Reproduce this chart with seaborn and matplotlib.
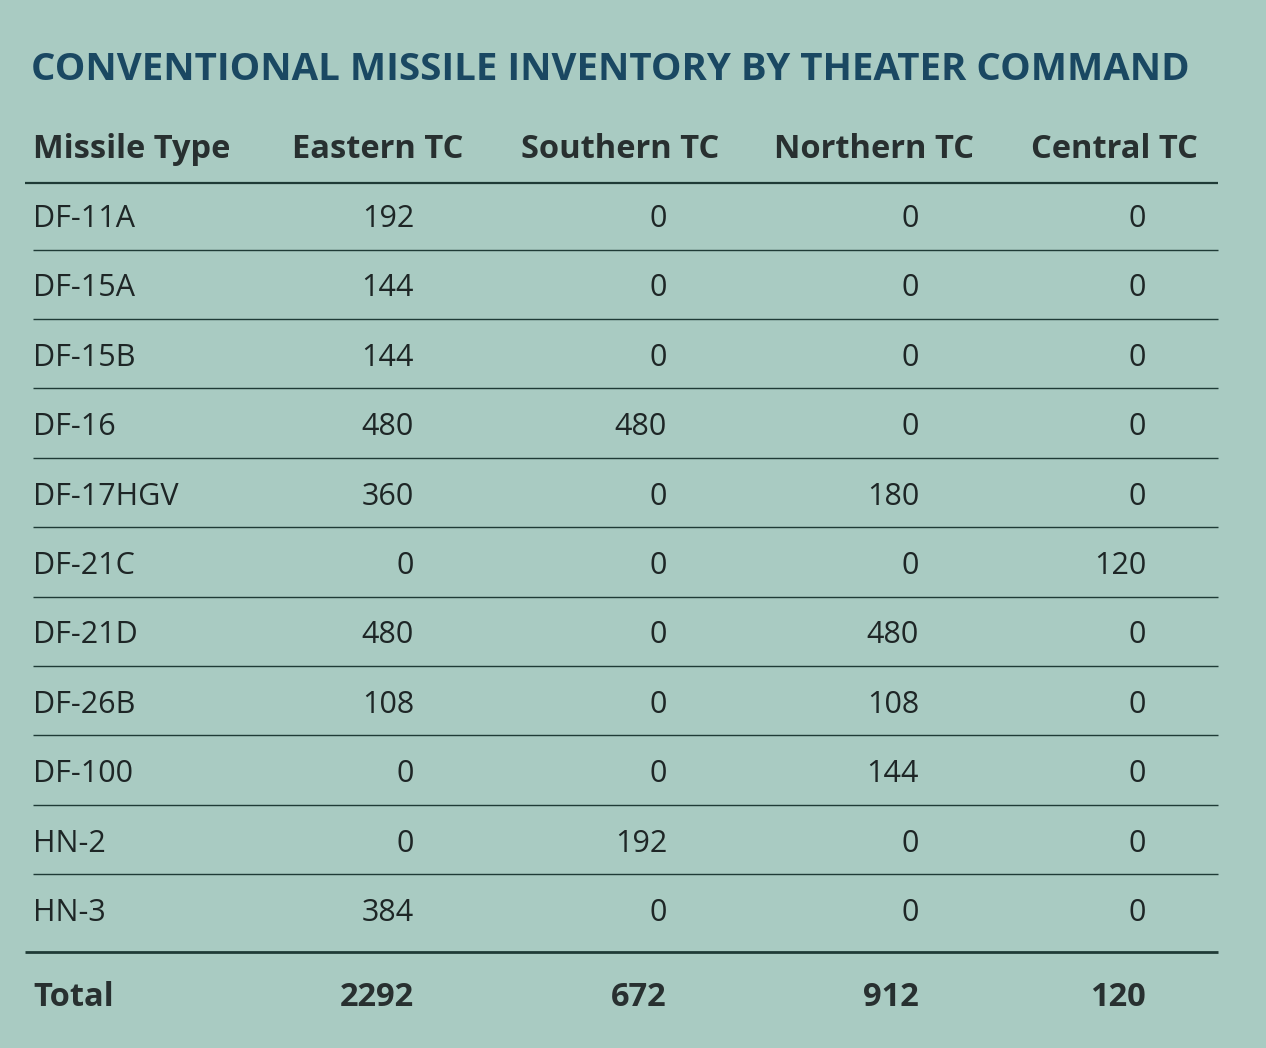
import matplotlib
matplotlib.use("Agg")
import matplotlib.pyplot as plt
import seaborn as sns

# table data
missile_types = ["DF-11A", "DF-15A", "DF-15B", "DF-16", "DF-17HGV", "DF-21C",
                 "DF-21D", "DF-26B", "DF-100", "HN-2", "HN-3"]
eastern_tc = [192, 144, 144, 480, 360, 0, 480, 108, 0, 0, 384]
southern_tc = [0, 0, 0, 480, 0, 0, 0, 0, 0, 192, 0]
northern_tc = [0, 0, 0, 0, 180, 0, 480, 108, 144, 0, 0]
central_tc = [0, 0, 0, 0, 0, 120, 0, 0, 0, 0, 0]
columns = ["Missile Type", "Eastern TC", "Southern TC", "Northern TC", "Central TC"]
title = "CONVENTIONAL MISSILE INVENTORY BY THEATER COMMAND"

BG = "#a9cbc2"
TITLE_C = "#1a4862"
TEXT_C = "#1e2626"
BOLD_C = "#283030"
LINE_C = "#1f3b36"

sns.set_theme(style="white")
plt.rcParams["font.family"] = ["Open Sans", "DejaVu Sans"]

fig = plt.figure(figsize=(12.66, 10.48), dpi=100, facecolor=BG)
ax = fig.add_axes([0, 0, 1, 1])
ax.set_facecolor(BG)
ax.set_xlim(0, 1266)
ax.set_ylim(1048, 0)
ax.axis("off")

ax.text(31, 70, title, fontsize=27.6, fontweight="bold", color=TITLE_C,
        va="center", ha="left")

# header
hdr_y = 149
ax.text(33, hdr_y, columns[0], fontsize=23.5, fontweight="bold", color=BOLD_C,
        va="center", ha="left")
hdr_x = [378, 620, 874, 1114]
for x, name in zip(hdr_x, columns[1:]):
    ax.text(x, hdr_y, name, fontsize=23.5, fontweight="bold", color=BOLD_C,
            va="center", ha="center")
ax.hlines(183, 25, 1218, color=LINE_C, lw=1.6)

# body rows
num_x = [414, 667, 919, 1146]
row0, step = 219, 69.4
series = [eastern_tc, southern_tc, northern_tc, central_tc]
for i, name in enumerate(missile_types):
    y = row0 + i * step
    ax.text(33, y, name, fontsize=22, color=TEXT_C, va="center", ha="left")
    for x, vals in zip(num_x, series):
        ax.text(x, y, str(vals[i]), fontsize=22, color=TEXT_C,
                va="center", ha="right")
    if i < len(missile_types) - 1:
        ax.hlines(y + 30.5, 33, 1218, color=LINE_C, lw=1.0)

ax.hlines(952, 25, 1218, color=LINE_C, lw=2.0)

# totals
tot_y = 998
ax.text(33, tot_y, "Total", fontsize=23.5, fontweight="bold", color=BOLD_C,
        va="center", ha="left")
for x, vals in zip(num_x, series):
    ax.text(x, tot_y, str(sum(vals)), fontsize=23.5, fontweight="bold",
            color=BOLD_C, va="center", ha="right")

fig.savefig("out.png", dpi=100, facecolor=BG)
